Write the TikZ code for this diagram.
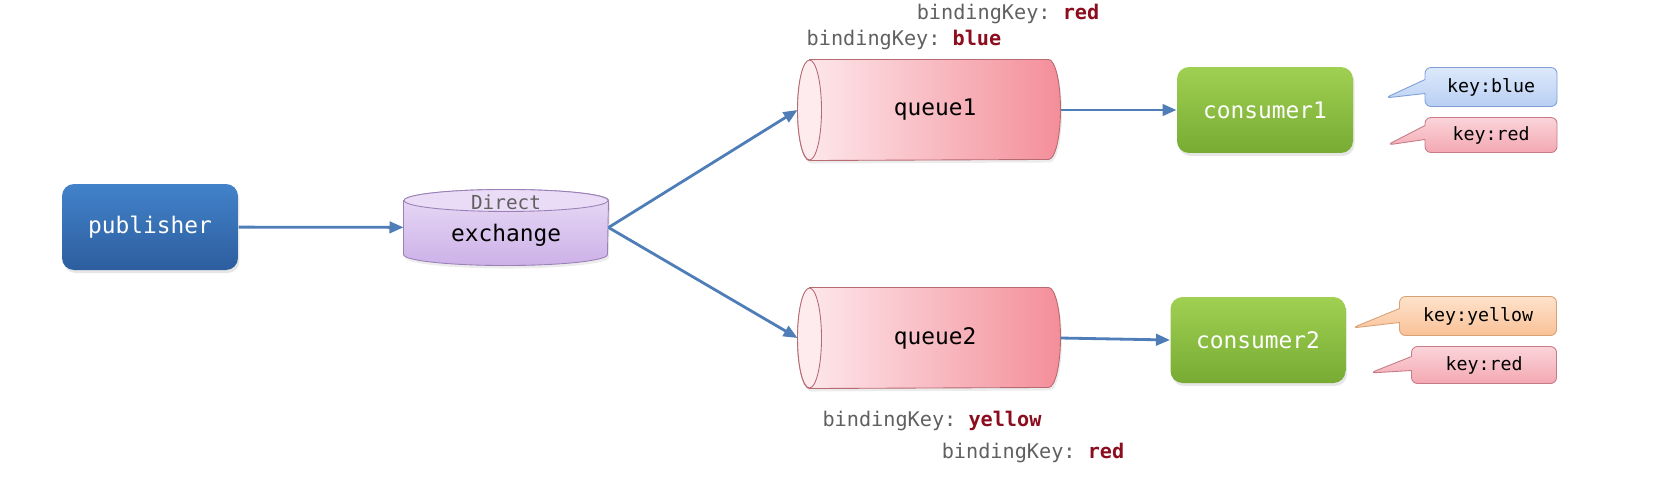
\documentclass[tikz,border=0pt]{standalone}
\usepackage{fontspec}
\setmainfont{DejaVu Sans Mono}
\setmonofont{DejaVu Sans Mono}
\frenchspacing
\usepackage{tikz}
\usetikzlibrary{arrows.meta,positioning,shapes.callouts,shadows}

\definecolor{pubtop}{HTML}{4282CA}
\definecolor{pubbot}{HTML}{2D5E9E}
\definecolor{contop}{HTML}{A0D052}
\definecolor{conbot}{HTML}{77AB33}
\definecolor{queuel}{HTML}{FDEBEE}
\definecolor{queuer}{HTML}{F48E99}
\definecolor{queueline}{HTML}{B86A72}
\definecolor{exl}{HTML}{EADCF6}
\definecolor{exd}{HTML}{CCB1E8}
\definecolor{exline}{HTML}{9A80B6}
\definecolor{flowblue}{HTML}{4E7DB8}
\definecolor{keygray}{HTML}{606060}
\definecolor{keyred}{HTML}{8B0D1E}
\definecolor{bluel}{HTML}{DDE9FB}
\definecolor{blued}{HTML}{B8CFF3}
\definecolor{blueline}{HTML}{7F9FD6}
\definecolor{redl}{HTML}{FAD4D9}
\definecolor{redd}{HTML}{F4A8B2}
\definecolor{redline}{HTML}{C67B86}
\definecolor{yellowl}{HTML}{FEE2CB}
\definecolor{yellowd}{HTML}{F9C197}
\definecolor{yellowline}{HTML}{D9A073}

\tikzset{
  >=Stealth,
  every picture/.append style={line width=0.6pt},
}

\begin{document}
\begin{tikzpicture}[x=0.02cm, y=-0.02cm,
  actor/.style={rectangle, rounded corners=2.4mm, draw=none,
                minimum width=3.52cm, minimum height=1.72cm,
                top color=#1top, bottom color=#1bot, text=white,
                drop shadow={shadow xshift=0.3mm, shadow yshift=-0.6mm, opacity=0.2},
                font=\fontsize{13}{15}\selectfont},
  queue/.style={rectangle, minimum width=5.24cm, minimum height=2cm,
                font=\fontsize{13}{15}\selectfont},
  queuebody/.style={draw=queueline, line width=0.5pt, left color=queuel, right color=queuer,
                    drop shadow={shadow xshift=0.3mm, shadow yshift=-0.6mm, opacity=0.15}},
  exch/.style={rectangle, minimum width=4.08cm, minimum height=1.5cm},
  exbody/.style={draw=exline, line width=0.5pt, top color=exl, bottom color=exd,
                 drop shadow={shadow xshift=0.3mm, shadow yshift=-0.6mm, opacity=0.15}},
  flow/.style={-{Triangle[length=2.8mm,width=2.3mm]}, draw=flowblue, line width=1.6pt},
  bkey/.style={text=keygray, font=\fontsize{11.5}{13}\selectfont},
  tag/.style={rectangle callout, rounded corners=1.2mm, draw=#1line, line width=0.5pt,
              top color=#1l, bottom color=#1d, inner sep=0pt,
              callout pointer width=0.28cm, minimum height=0.78cm,
              font=\fontsize{10.4}{12}\selectfont}
]
\useasboundingbox (0,0) rectangle (1659,498);

% Publisher and exchange
\node[actor=pub] (publisher) at (150,227) {publisher};
\node[exch] (exchange) at (506,227.5) {};
\path[exbody] ([yshift=-2.2mm]exchange.north west) -- ([yshift=2.2mm]exchange.south west)
  arc[start angle=180, end angle=360, x radius=2.04cm, y radius=2.2mm]
  -- ([yshift=-2.2mm]exchange.north east)
  arc[start angle=0, end angle=180, x radius=2.04cm, y radius=2.2mm] -- cycle;
\draw[exline, line width=0.5pt, fill=exl] ([yshift=-2.2mm]exchange.north) ellipse[x radius=2.04cm, y radius=2.2mm];
\node[text=keygray, font=\fontsize{11}{13}\selectfont] (extype) at (506,202) {Direct};
\node[font=\fontsize{13}{15}\selectfont] (exname) at (506,235) {exchange};

% Queues
\foreach \q/\y in {queue1/110, queue2/338} {
  \node[queue] (\q) at (929,\y) {};
  \path[queuebody] ([xshift=2.4mm]\q.north west) -- ([xshift=-2.4mm]\q.north east)
    arc[start angle=90, end angle=-90, x radius=2.4mm, y radius=1cm]
    -- ([xshift=2.4mm]\q.south west)
    arc[start angle=270, end angle=90, x radius=2.4mm, y radius=1cm] -- cycle;
  \draw[queueline, line width=0.5pt, fill=queuel] ([xshift=2.4mm]\q.west) ellipse[x radius=2.4mm, y radius=1cm];
  \node[font=\fontsize{13}{15}\selectfont] at ([xshift=1.2mm]\q.center) {\q};
}

% Consumers
\node[actor=con] (consumer1) at (1265,110) {consumer1};
\node[actor=con, minimum width=3.5cm] (consumer2) at (1258,340) {consumer2};

% Flow arrows
\draw[flow] (publisher) -- (exchange);
\draw[flow] (exchange.east) -- (queue1.west);
\draw[flow] (exchange.east) -- (queue2.west);
\draw[flow] (queue1.east) -- (consumer1.west);
\draw[flow] (queue2.east) -- (consumer2.west);

% Binding keys
\node[bkey] (bk1red) at (1008,14) {bindingKey: \textcolor{keyred}{\bfseries red}};
\node[bkey] (bk1blue) at (904,40) {bindingKey: \textcolor{keyred}{\bfseries blue}};
\node[bkey] (bk2yellow) at (932,421) {bindingKey: \textcolor{keyred}{\bfseries yellow}};
\node[bkey] (bk2red) at (1033,453) {bindingKey: \textcolor{keyred}{\bfseries red}};

% Message keys
\coordinate (tip1b) at (1385,98);
\coordinate (tip1r) at (1387,145);
\coordinate (tip2y) at (1352,328);
\coordinate (tip2r) at (1370,373);
\node[tag=blue, minimum width=2.64cm, callout absolute pointer={(tip1b)}] (msg1b) at (1491,87) {key:blue};
\node[tag=red, minimum width=2.64cm, minimum height=0.7cm, callout absolute pointer={(tip1r)}] (msg1r) at (1491,135) {key:red};
\node[tag=yellow, minimum width=3.14cm, callout absolute pointer={(tip2y)}] (msg2y) at (1478,316) {key:yellow};
\node[tag=red, minimum width=2.9cm, minimum height=0.74cm, callout absolute pointer={(tip2r)}] (msg2r) at (1484,365) {key:red};

\end{tikzpicture}
\end{document}
